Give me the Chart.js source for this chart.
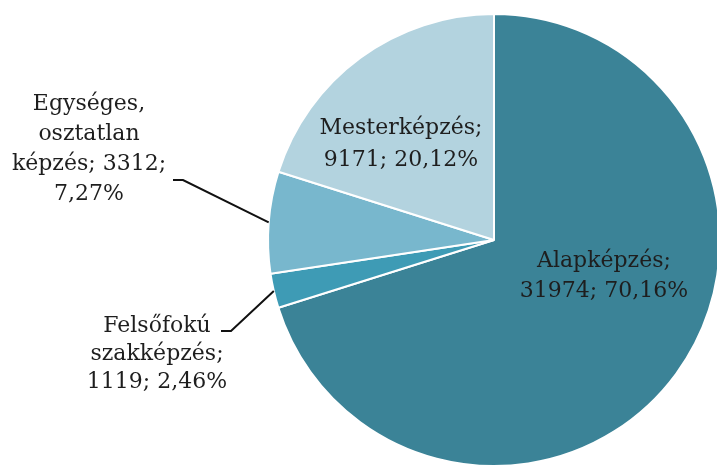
<!DOCTYPE html>
<html>
<head>
<meta charset="utf-8">
<script src="https://cdn.jsdelivr.net/npm/chart.js@4"></script>
<style>
  html, body { margin: 0; padding: 0; background: #fff; overflow: hidden; }
  #wrap { position: relative; width: 721px; height: 471px; }
</style>
</head>
<body>
<div id="wrap"><canvas id="chart"></canvas></div>
<script>
// képzési szintek
const categories = ['Alapképzés', 'Felsőfokú szakképzés', 'Egységes, osztatlan képzés', 'Mesterképzés'];
const counts = [31974, 1119, 3312, 9171];
const percents = ['70,16%', '2,46%', '7,27%', '20,12%'];
const colors = ['#3b8397', '#3e9bb5', '#78b7cd', '#b3d3df'];

// label lines as they appear in the picture
const labelLines = [
    ['Alapképzés;', counts[0] + '; ' + percents[0]],
    ['Felsőfokú', 'szakképzés;', counts[1] + '; ' + percents[1]],
    ['Egységes,', 'osztatlan', 'képzés; ' + counts[2] + ';', percents[2]],
    ['Mesterképzés;', counts[3] + '; ' + percents[3]]
];

// where each label sits (center x, first line y), and whether it gets a leader line
const labelLayout = [
    { x: 604, y: 261, lh: 30, leader: null },
    { x: 157, y: 326, lh: 28, leader: { x: 221, y: 331 } },
    { x: 89, y: 104, lh: 30, leader: { x: 173, y: 180 } },
    { x: 401, y: 128, lh: 32, leader: null }
];

const labelPlugin = {
    id: 'pieLabels',
    afterDraw(chart) {
        const ctx = chart.ctx;
        const arcs = chart.getDatasetMeta(0).data;
        ctx.save();
        ctx.font = '22px "DejaVu Serif"';
        ctx.fillStyle = '#1e1e1e';
        ctx.textAlign = 'center';
        ctx.textBaseline = 'middle';
        labelLines.forEach((lines, i) => {
            const lay = labelLayout[i];
            lines.forEach((t, j) => ctx.fillText(t, lay.x, lay.y + j * lay.lh));
            if (lay.leader) {
                const a = arcs[i];
                const mid = (a.startAngle + a.endAngle) / 2;
                const ex = a.x + Math.cos(mid) * a.outerRadius;
                const ey = a.y + Math.sin(mid) * a.outerRadius;
                ctx.beginPath();
                ctx.strokeStyle = '#111';
                ctx.lineWidth = 2;
                ctx.moveTo(lay.leader.x, lay.leader.y);
                ctx.lineTo(lay.leader.x + 10, lay.leader.y);
                ctx.lineTo(ex, ey);
                ctx.stroke();
            }
        });
        ctx.restore();
    }
};

new Chart(document.getElementById('chart'), {
    type: 'pie',
    data: {
        labels: categories,
        datasets: [{
            data: counts,
            backgroundColor: colors,
            borderColor: '#ffffff',
            borderWidth: 2
        }]
    },
    options: {
        responsive: true,
        maintainAspectRatio: false,
        animation: false,
        layout: { padding: { left: 267, right: 0, top: 13, bottom: 4 } },
        plugins: {
            legend: { display: false },
            tooltip: { enabled: false }
        }
    },
    plugins: [labelPlugin]
});
</script>
</body>
</html>
